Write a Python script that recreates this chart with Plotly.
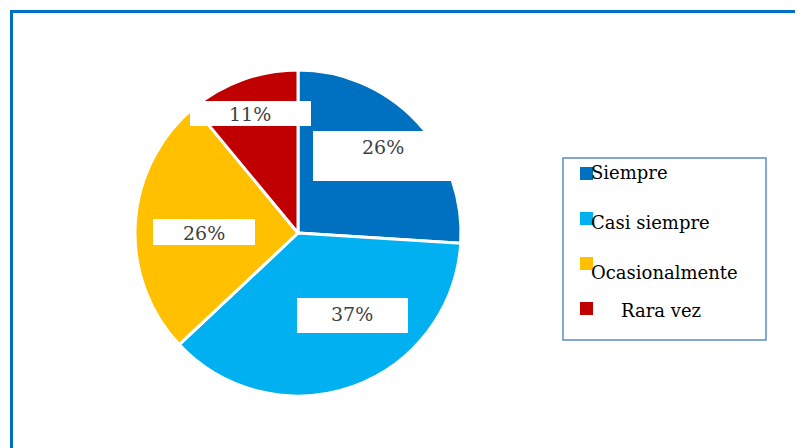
import plotly.graph_objects as go

categories = ["Siempre", "Casi siempre", "Ocasionalmente", "Rara vez"]
values = [26, 37, 26, 11]
colors = ["#0070C0", "#00B0F0", "#FFC000", "#C00000"]

# page body has an 8px margin, so the figure is offset by 8px
OFF = 8
W, H = 803 - OFF, 448 - OFF

def px(x):
    return (x - OFF) / W

def py(y):
    return 1 - (y - OFF) / H

fig = go.Figure()
fig.add_trace(go.Pie(
    labels=categories,
    values=values,
    sort=False,
    direction="clockwise",
    rotation=0,
    marker=dict(colors=colors, line=dict(color="white", width=3)),
    textinfo="none",
    hoverinfo="label+percent",
    showlegend=False,
    domain=dict(x=[px(135), px(461)], y=[py(396), py(70)]),
))

shapes = []
annotations = []

# outer frame
shapes.append(dict(type="rect", xref="paper", yref="paper",
                   x0=px(11.5), x1=1.05, y0=-0.05, y1=py(11.5),
                   line=dict(color="#0070C0", width=3), fillcolor="rgba(0,0,0,0)", layer="above"))

# label boxes (x0, x1, y0, y1) and text centres
label_boxes = [(313, 455, 131, 181), (297, 408, 298, 333), (153, 255, 219, 245), (190, 311, 101, 126)]
label_centres = [(383, 147), (352, 314), (204, 233), (250, 114)]
for (x0, x1, y0, y1), (cx, cy), v in zip(label_boxes, label_centres, values):
    shapes.append(dict(type="rect", xref="paper", yref="paper",
                       x0=px(x0), x1=px(x1), y0=py(y1), y1=py(y0),
                       line=dict(width=0), fillcolor="white", layer="above"))
    annotations.append(dict(xref="paper", yref="paper", x=px(cx), y=py(cy),
                            text=f"{v}%", showarrow=False, xanchor="center", yanchor="middle",
                            font=dict(family="DejaVu Serif", size=19, color="#404040")))

# legend box
shapes.append(dict(type="rect", xref="paper", yref="paper",
                   x0=px(563), x1=px(766), y0=py(340), y1=py(158),
                   line=dict(color="#5B8BC9", width=1.5), fillcolor="white", layer="above"))
sq_tops = [167, 212, 257, 302]
text_y = [172, 222, 272, 310]
text_x = [589, 589, 589, 619]
for name, col, t, ty, tx in zip(categories, colors, sq_tops, text_y, text_x):
    shapes.append(dict(type="rect", xref="paper", yref="paper",
                       x0=px(580), x1=px(593), y0=py(t + 13), y1=py(t),
                       line=dict(width=0), fillcolor=col, layer="above"))
    annotations.append(dict(xref="paper", yref="paper", x=px(tx), y=py(ty),
                            text=name, showarrow=False, xanchor="left", yanchor="middle",
                            font=dict(family="DejaVu Serif", size=18, color="#000000")))

fig.update_layout(
    width=W, height=H,
    margin=dict(l=0, r=0, t=0, b=0),
    paper_bgcolor="white", plot_bgcolor="white",
    shapes=shapes, annotations=annotations,
)

fig.write_html("out.html")
